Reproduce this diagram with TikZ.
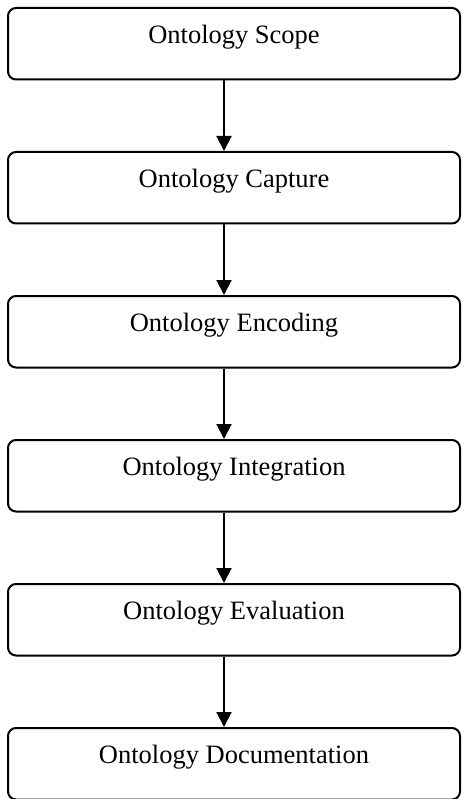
\documentclass[tikz,border=0pt]{standalone}
\usepackage{fontspec}
\setmainfont{Liberation Serif}
\usetikzlibrary{arrows.meta}
\begin{document}
\begin{tikzpicture}[x=1pt,y=-1pt,
  stagebox/.style={draw=black, line width=2pt, rounded corners=8pt,
    minimum width=452pt, minimum height=71.5pt, inner sep=0pt,
    text height=12pt, text depth=12pt,
    font=\fontsize{26.5}{30}\selectfont},
  flowarrow/.style={draw=black, line width=2pt,
    -{Triangle[width=15pt,length=15pt]}}]
\useasboundingbox (0,0) rectangle (461,799);
\coordinate (ax) at (224,0);
\node[stagebox] (b1) at (234,43.75) {Ontology Scope};
\node[stagebox] (b2) at (234,187.75) {Ontology Capture};
\node[stagebox] (b3) at (234,331.75) {Ontology Encoding};
\node[stagebox] (b4) at (234,475.75) {Ontology Integration};
\node[stagebox] (b5) at (234,619.75) {Ontology Evaluation};
\node[stagebox] (b6) at (234,763.75) {Ontology Documentation};
\draw[flowarrow] (b1.south -| ax) -- (b2.north -| ax);
\draw[flowarrow] (b2.south -| ax) -- (b3.north -| ax);
\draw[flowarrow] (b3.south -| ax) -- (b4.north -| ax);
\draw[flowarrow] (b4.south -| ax) -- (b5.north -| ax);
\draw[flowarrow] (b5.south -| ax) -- (b6.north -| ax);
\end{tikzpicture}
\end{document}
